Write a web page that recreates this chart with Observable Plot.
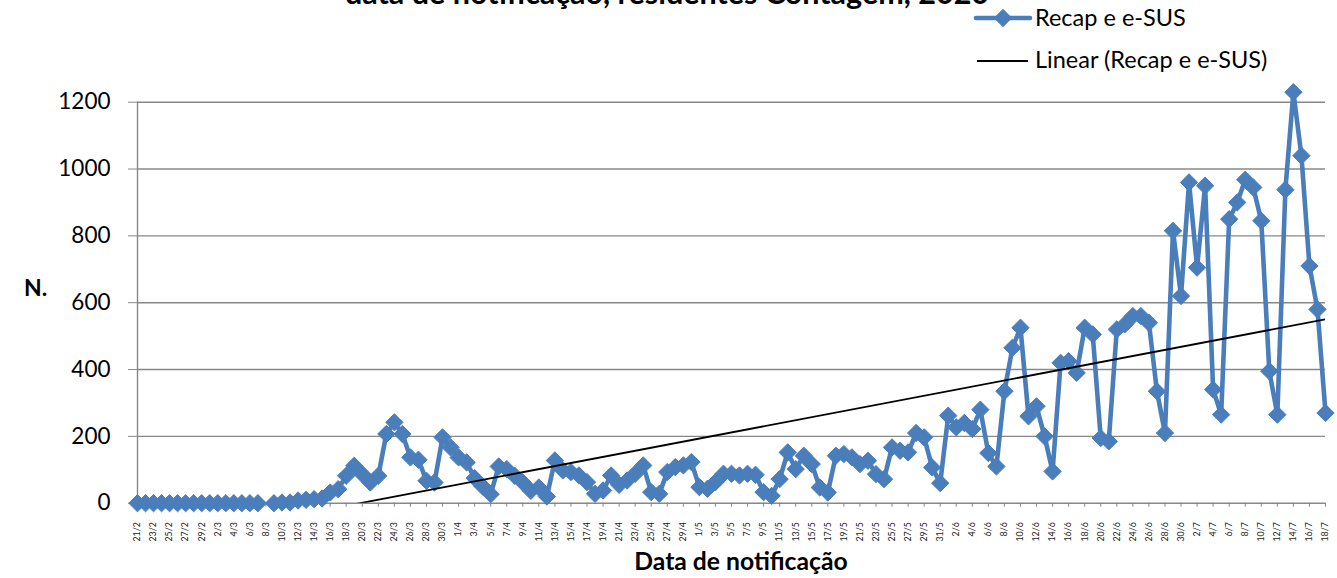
<!DOCTYPE html>
<html>
<head>
<meta charset="utf-8">
<script src="https://cdn.jsdelivr.net/npm/d3@7"></script>
<script src="https://cdn.jsdelivr.net/npm/@observablehq/plot@0.6"></script>
<style>
  html, body { margin: 0; padding: 0; background: #fff; }
  #wrap { position: relative; width: 1337px; height: 578px; overflow: hidden; background: #fff; }
  #wrap > svg.overlay { position: absolute; left: 0; top: 0; pointer-events: none; }
</style>
</head>
<body>
<div id="wrap"></div>
<script>
// ---- Data: daily notifications (Recap e e-SUS), 21/2 to 18/7/2020 ----
const febStart = 21;
const febValues = [0, 0, 0, 0, 0, 0, 0, 0, 0];
const marValues = [0, 0, 0, 0, 0, 0, 0, null, 0, 2, 2, 8, 10, 12, 14, 32, 42, 82, 112, 87, 62, 82, 207, 242, 207, 137, 130, 67, 62, 197, 167];
const aprValues = [137, 122, 75, 50, 27, 110, 102, 82, 62, 37, 47, 20, 128, 98, 93, 83, 63, 28, 38, 83, 55, 68, 88, 113, 33, 28, 93, 108, 113, 123];
const mayValues = [48, 43, 63, 88, 88, 83, 88, 85, 33, 22, 72, 152, 102, 142, 117, 47, 32, 142, 147, 137, 117, 127, 87, 72, 167, 157, 152, 210, 197, 107, 60];
const junValues = [262, 227, 240, 222, 280, 150, 110, 335, 465, 525, 260, 290, 200, 95, 420, 425, 390, 525, 505, 195, 185, 520, 535, 560, 560, 540, 335, 210, 815, 620];
const julValues = [960, 705, 950, 340, 265, 850, 900, 968, 945, 845, 395, 265, 938, 1230, 1040, 710, 580, 270];

const yTicks = [0, 200, 400, 600, 800, 1000, 1200];
const seriesName = "Recap e e-SUS";
const trendName = "Linear (Recap e e-SUS)";
const titleText = "data de notificação, residentes Contagem, 2020";
const xTitle = "Data de notificação";
const yTitle = "N.";

// ---- Build table ----
const months = [
  {m: 2, start: febStart, vals: febValues},
  {m: 3, start: 1, vals: marValues},
  {m: 4, start: 1, vals: aprValues},
  {m: 5, start: 1, vals: mayValues},
  {m: 6, start: 1, vals: junValues},
  {m: 7, start: 1, vals: julValues}
];
const data = [];
months.forEach(({m, start, vals}) => {
  vals.forEach((v, k) => data.push({i: data.length, label: `${start + k}/${m}`, v}));
});
const defined = data.filter(d => d.v != null);
const labels = data.map(d => d.label);
const xTickIdx = data.filter(d => d.i % 2 === 0).map(d => d.i);

const BLUE = "#4A7EBB";
const GRID = "#888888";
const FONT = "Lato, 'Open Sans', sans-serif";

const chart = Plot.plot({
  width: 1337,
  height: 578,
  marginLeft: 137,
  marginRight: 12,
  marginTop: 101.7,
  marginBottom: 75.3,
  style: {fontFamily: FONT, background: "#fff", color: "#000", overflow: "visible"},
  x: {domain: [0, data.length - 1], axis: null},
  y: {domain: [0, 1200], axis: null},
  marks: [
    Plot.gridY(yTicks, {stroke: GRID, strokeOpacity: 1, strokeWidth: 1.4}),
    Plot.ruleX([0], {stroke: GRID, strokeWidth: 1.4}),
    Plot.axisY(yTicks, {tickSize: 9, tickPadding: 18, fontSize: 22.5, stroke: GRID, fill: "#000", label: null,
      tickFormat: d => String(d)}),
    Plot.axisX(xTickIdx, {tickSize: 4, tickPadding: 15, tickRotate: -90, fontSize: 8.8, stroke: GRID, fill: "#222",
      tickFormat: i => labels[i], label: null}),
    Plot.line(data, {x: "i", y: "v", stroke: BLUE, strokeWidth: 4.6, strokeLinejoin: "round"}),
    Plot.dot(defined, {x: "i", y: "v", symbol: "diamond2", r: 7.8, fill: BLUE, stroke: BLUE, strokeWidth: 1}),
    Plot.linearRegressionY(defined, {x: "i", y: "v", stroke: "#000", strokeWidth: 1.8, ci: 0, clip: true})
  ]
});

const wrap = document.getElementById("wrap");
wrap.appendChild(chart);

// ---- Overlay texts: title, axis titles, legend ----
const ns = "http://www.w3.org/2000/svg";
const ov = document.createElementNS(ns, "svg");
ov.setAttribute("class", "overlay");
ov.setAttribute("width", 1337);
ov.setAttribute("height", 578);
ov.style.fontFamily = FONT;
function txt(str, x, y, opts = {}) {
  const t = document.createElementNS(ns, "text");
  t.setAttribute("x", x);
  t.setAttribute("y", y);
  t.setAttribute("font-size", opts.size || 21);
  t.setAttribute("font-weight", opts.weight || "normal");
  t.setAttribute("text-anchor", opts.anchor || "start");
  t.setAttribute("fill", "#000");
  t.textContent = str;
  ov.appendChild(t);
  return t;
}
txt(titleText, 667, 4, {size: 30.5, weight: "bold", anchor: "middle"});
txt(xTitle, 741, 570, {size: 24.7, weight: "bold", anchor: "middle"});
txt(yTitle, 24, 296, {size: 23, weight: "bold"});

// legend
const l1 = document.createElementNS(ns, "line");
l1.setAttribute("x1", 976); l1.setAttribute("x2", 1030); l1.setAttribute("y1", 18); l1.setAttribute("y2", 18);
l1.setAttribute("stroke", BLUE); l1.setAttribute("stroke-width", 4.6); l1.setAttribute("stroke-linecap", "round");
ov.appendChild(l1);
const dm = document.createElementNS(ns, "path");
dm.setAttribute("d", d3.symbol(d3.symbolDiamond2, 7.8 * 7.8 * Math.PI)());
dm.setAttribute("transform", "translate(1003,18)");
dm.setAttribute("fill", BLUE); dm.setAttribute("stroke", BLUE);
ov.appendChild(dm);
txt(seriesName, 1035, 26, {size: 23.5});
const l2 = document.createElementNS(ns, "line");
l2.setAttribute("x1", 977); l2.setAttribute("x2", 1028); l2.setAttribute("y1", 61); l2.setAttribute("y2", 61);
l2.setAttribute("stroke", "#000"); l2.setAttribute("stroke-width", 1.8);
ov.appendChild(l2);
txt(trendName, 1035, 68, {size: 23.5});

wrap.appendChild(ov);
</script>
</body>
</html>
